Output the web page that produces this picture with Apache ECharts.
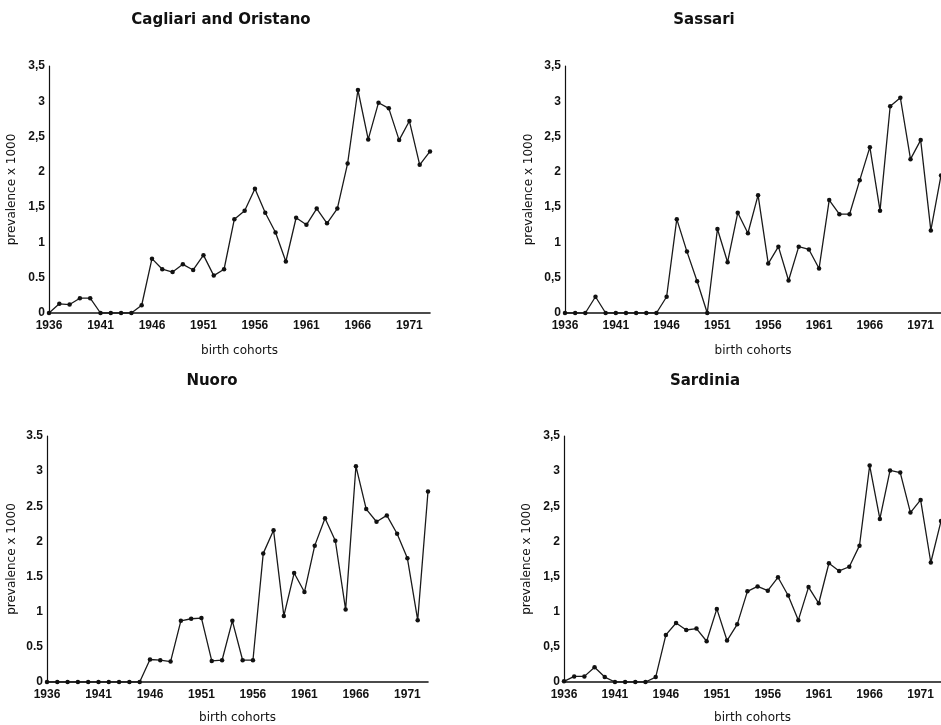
<!DOCTYPE html>
<html>
<head>
<meta charset="utf-8">
<script src="https://cdn.jsdelivr.net/npm/echarts@6/dist/echarts.min.js"></script>
<style>
html,body{margin:0;padding:0;background:#fff;}
#c{width:941px;height:725px;}
</style>
</head>
<body>
<div id="c"></div>
<script>
// Birth cohorts 1936-1973
const cohorts = [];
for (let y = 1936; y <= 1973; y++) cohorts.push(String(y));

const titles = ['Cagliari and Oristano', 'Sassari', 'Nuoro', 'Sardinia'];

const cagliariOristano = [0, 0.13, 0.12, 0.21, 0.21, 0, 0, 0, 0, 0.11,
  0.77, 0.62, 0.58, 0.69, 0.61, 0.82, 0.53, 0.62, 1.33, 1.45,
  1.76, 1.42, 1.14, 0.73, 1.35, 1.25, 1.48, 1.27, 1.48, 2.12,
  3.16, 2.46, 2.98, 2.90, 2.45, 2.72, 2.10, 2.29];

const sassari = [0, 0, 0, 0.23, 0, 0, 0, 0, 0, 0,
  0.23, 1.33, 0.87, 0.45, 0, 1.19, 0.72, 1.42, 1.13, 1.67,
  0.70, 0.94, 0.46, 0.94, 0.90, 0.63, 1.60, 1.40, 1.40, 1.88,
  2.35, 1.45, 2.93, 3.05, 2.18, 2.45, 1.17, 1.95];

const nuoro = [0, 0, 0, 0, 0, 0, 0, 0, 0, 0,
  0.32, 0.31, 0.29, 0.87, 0.90, 0.91, 0.30, 0.31, 0.87, 0.31,
  0.31, 1.83, 2.16, 0.94, 1.55, 1.28, 1.94, 2.33, 2.01, 1.03,
  3.07, 2.46, 2.28, 2.37, 2.11, 1.76, 0.88, 2.71];

const sardinia = [0.01, 0.08, 0.08, 0.21, 0.07, 0, 0, 0, 0, 0.07,
  0.67, 0.84, 0.74, 0.76, 0.58, 1.04, 0.59, 0.82, 1.29, 1.36,
  1.30, 1.49, 1.23, 0.88, 1.35, 1.12, 1.69, 1.58, 1.64, 1.94,
  3.08, 2.32, 3.01, 2.98, 2.41, 2.59, 1.70, 2.29];

// y tick labels as printed in each panel
const yTicksComma = ['0', '0,5', '1', '1,5', '2', '2,5', '3', '3,5'];
const yTicksPanel1 = ['0', '0.5', '1', '1,5', '2', '2,5', '3', '3,5'];
const yTicksDot = ['0', '0.5', '1', '1.5', '2', '2.5', '3', '3.5'];

const seriesData = [cagliariOristano, sassari, nuoro, sardinia];
const tickSets = [yTicksPanel1, yTicksComma, yTicksDot, yTicksComma];

const grids = [
  {left: 49, top: 66, width: 381, height: 247},
  {left: 565, top: 66, width: 380, height: 247},
  {left: 47, top: 436, width: 381, height: 247},
  {left: 564, top: 436, width: 380, height: 247}
];
const titlePos = [
  {x: 221, y: 13}, {x: 704, y: 13}, {x: 212, y: 374}, {x: 705, y: 374}
];
const yNameGaps = [31, 30, 29, 31];
const xNameGaps = [32, 32, 30, 30];

const chart = echarts.init(document.getElementById('c'), null, {renderer: 'canvas'});

const tickFont = {fontFamily: 'Liberation Sans, Arial', fontWeight: 'bold', fontSize: 12, color: '#111'};
const nameFont = {fontFamily: 'DejaVu Sans', fontSize: 12, color: '#111'};

const option = {
  backgroundColor: '#fff',
  animation: false,
  title: titles.map((t, i) => ({
    text: t,
    left: titlePos[i].x,
    top: titlePos[i].y,
    textAlign: 'center',
    padding: 0,
    textStyle: {fontFamily: 'DejaVu Sans', fontWeight: 'bold', fontSize: 15, color: '#111'}
  })),
  grid: grids,
  xAxis: grids.map((g, i) => ({
    type: 'category',
    gridIndex: i,
    data: cohorts,
    boundaryGap: false,
    name: 'birth cohorts',
    nameLocation: 'middle',
    nameGap: xNameGaps[i],
    nameTextStyle: nameFont,
    axisLine: {lineStyle: {color: '#111', width: 1.6}},
    axisTick: {show: false},
    axisLabel: Object.assign({interval: 4, margin: 7}, tickFont),
    splitLine: {show: false}
  })),
  yAxis: grids.map((g, i) => ({
    type: 'value',
    gridIndex: i,
    min: 0,
    max: 3.5,
    interval: 0.5,
    name: 'prevalence x 1000',
    nameLocation: 'middle',
    nameGap: yNameGaps[i],
    nameTextStyle: nameFont,
    axisLine: {show: true, lineStyle: {color: '#111', width: 1.2}},
    axisTick: {show: false},
    axisLabel: Object.assign({
      margin: 4,
      formatter: (v) => tickSets[i][Math.round(v / 0.5)]
    }, tickFont),
    splitLine: {show: false}
  })),
  series: seriesData.map((d, i) => ({
    type: 'line',
    xAxisIndex: i,
    yAxisIndex: i,
    data: d,
    symbol: 'circle',
    symbolSize: 4.5,
    showAllSymbol: true,
    lineStyle: {color: '#1a1a1a', width: 1.3},
    itemStyle: {color: '#111'},
    clip: true
  }))
};
chart.setOption(option);
</script>
</body>
</html>
